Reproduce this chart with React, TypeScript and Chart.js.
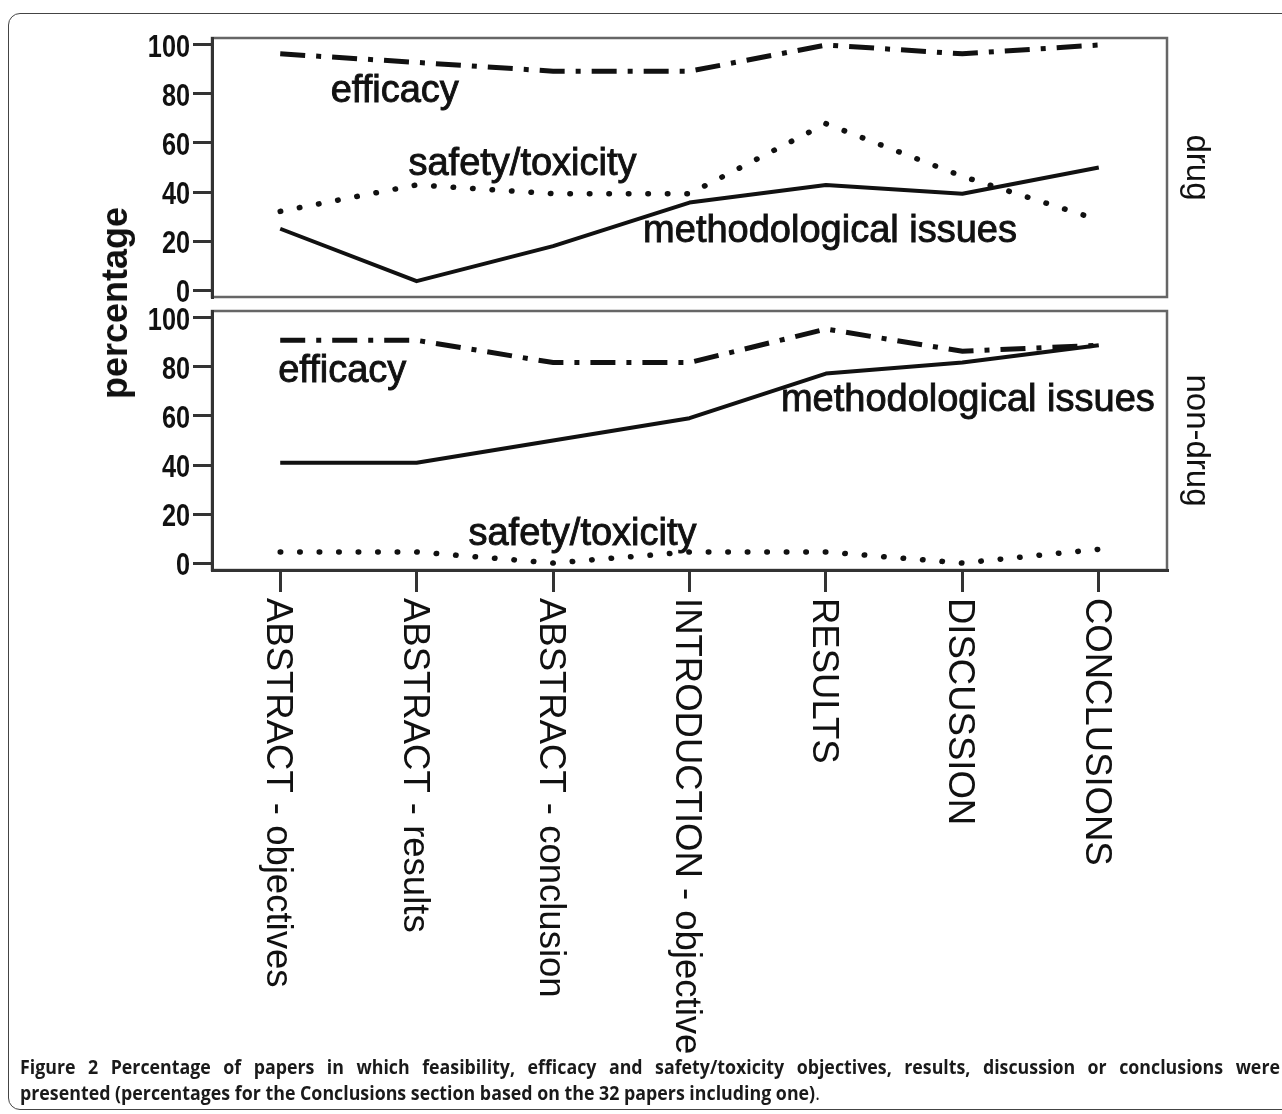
import React, { useEffect, useRef } from "react";
import { Chart, registerables } from "chart.js";

Chart.register(...registerables);

// ---------- data ----------
const categories = [
  "ABSTRACT - objectives",
  "ABSTRACT - results",
  "ABSTRACT - conclusion",
  "INTRODUCTION - objective",
  "RESULTS",
  "DISCUSSION",
  "CONCLUSIONS",
];
const yTicks = [0, 20, 40, 60, 80, 100];

const drugEfficacy = [96.4, 92.9, 89.3, 89.3, 100, 96.4, 100];
const drugSafety = [32.1, 42.9, 39.3, 39.3, 67.9, 46.4, 28.6];
const drugMethod = [25.0, 3.6, 17.9, 35.7, 42.9, 39.3, 50.0];

const nonDrugEfficacy = [90.9, 90.9, 81.8, 81.8, 95.5, 86.4, 88.9];
const nonDrugSafety = [4.5, 4.5, 0, 4.5, 4.5, 0, 5.6];
const nonDrugMethod = [40.9, 40.9, 50.0, 59.1, 77.3, 81.8, 88.9];

const seriesNames = ["efficacy", "safety/toxicity", "methodological issues"];
const panelNames = ["drug", "non-drug"];

// label anchors in data space: [category index, value] (order = seriesNames)
const drugLabelAt = [
  [0.37, 76.6],
  [0.94, 46.8],
  [2.66, 19.4],
];
const nonDrugLabelAt = [
  [-0.015, 73.8],
  [1.38, 7.2],
  [3.67, 62.0],
];

// ---------- styles ----------
const FONT = '"Liberation Sans", Arial, sans-serif';
const INK = "#111";
const TICK_LEN = 19;

function datasetsFor(eff: number[], saf: number[], met: number[]) {
  return [
    {
      label: seriesNames[0],
      data: eff,
      borderColor: INK,
      borderWidth: 5,
      borderDash: [25, 11, 5, 11],
      borderCapStyle: "butt",
      pointRadius: 0,
      tension: 0,
      fill: false,
    },
    {
      label: seriesNames[1],
      data: saf,
      borderColor: INK,
      borderWidth: 5.5,
      borderDash: [0.5, 19],
      borderCapStyle: "round",
      pointRadius: 0,
      tension: 0,
      fill: false,
    },
    {
      label: seriesNames[2],
      data: met,
      borderColor: INK,
      borderWidth: 4,
      borderJoinStyle: "round",
      pointRadius: 0,
      tension: 0,
      fill: false,
    },
  ];
}

function panelPlugin(panelName: string, labelAt: number[][], drawXLabels: boolean) {
  return {
    id: "panelDeco",
    beforeDraw(chart: any) {
      const { ctx, chartArea } = chart;
      ctx.save();
      ctx.strokeStyle = "#666";
      ctx.lineWidth = 2.5;
      ctx.strokeRect(
        chartArea.left,
        chartArea.top,
        chartArea.right - chartArea.left,
        chartArea.bottom - chartArea.top
      );
      ctx.restore();
    },
    afterDatasetsDraw(chart: any) {
      const { ctx, chartArea, scales } = chart;
      const xs = scales.x;
      const ys = scales.y;
      ctx.save();
      ctx.fillStyle = INK;
      ctx.strokeStyle = INK;
      // y tick labels (condensed bold)
      ctx.font = `bold 32px ${FONT}`;
      ctx.textAlign = "right";
      ctx.textBaseline = "middle";
      yTicks.forEach((v) => {
        ctx.save();
        ctx.translate(ys.right - TICK_LEN - 3, ys.getPixelForValue(v) + 3);
        ctx.scale(0.79, 1);
        ctx.fillText(String(v), 0, 0);
        ctx.restore();
      });
      // series annotations
      ctx.font = `38px ${FONT}`;
      ctx.textAlign = "left";
      ctx.textBaseline = "alphabetic";
      ctx.lineWidth = 0.9;
      seriesNames.forEach((name, i) => {
        const [ci, v] = labelAt[i];
        const px = xs.getPixelForValue(ci);
        const py = ys.getPixelForValue(v);
        ctx.fillText(name, px, py);
        ctx.strokeText(name, px, py);
      });
      // panel name on right
      ctx.save();
      ctx.font = `33px ${FONT}`;
      ctx.translate(chartArea.right + 29, (chartArea.top + chartArea.bottom) / 2);
      ctx.rotate(Math.PI / 2);
      ctx.textAlign = "center";
      ctx.textBaseline = "middle";
      ctx.fillText(panelName, 0, 0);
      ctx.restore();
      // category labels (reading top to bottom)
      if (drawXLabels) {
        ctx.font = `36.5px ${FONT}`;
        categories.forEach((c, i) => {
          ctx.save();
          ctx.translate(xs.getPixelForValue(i) - 3, chartArea.bottom + 28);
          ctx.rotate(Math.PI / 2);
          ctx.textAlign = "left";
          ctx.textBaseline = "middle";
          ctx.fillText(c, 0, 0);
          ctx.restore();
        });
      }
      ctx.restore();
    },
  };
}

function yScale() {
  return {
    type: "linear",
    min: -2.857,
    max: 102.857,
    afterBuildTicks: (s: any) => {
      s.ticks = yTicks.map((v) => ({ value: v }));
    },
    afterFit: (s: any) => {
      s.width = 212;
    },
    grid: {
      drawOnChartArea: false,
      drawTicks: true,
      tickLength: TICK_LEN,
      tickWidth: 3,
      tickColor: "#333",
      color: "#333",
      lineWidth: 3,
    },
    border: { display: true, color: "#333", width: 3 },
    ticks: { display: false },
  };
}

function PanelChart(props: { top: number; height: number; bottomPanel: boolean }) {
  const ref = useRef<HTMLCanvasElement | null>(null);
  useEffect(() => {
    if (!ref.current) return;
    const bottom = props.bottomPanel;
    const ds = bottom
      ? datasetsFor(nonDrugEfficacy, nonDrugSafety, nonDrugMethod)
      : datasetsFor(drugEfficacy, drugSafety, drugMethod);
    const xScale: any = bottom
      ? {
          type: "category",
          offset: true,
          afterFit: (s: any) => {
            s.height = props.height - 265;
          },
          grid: {
            offset: false,
            drawOnChartArea: false,
            drawTicks: true,
            tickLength: 22,
            tickWidth: 3,
            tickColor: "#333",
            color: "#333",
            lineWidth: 3,
          },
          border: { display: true, color: "#333", width: 3 },
          ticks: { display: false },
        }
      : { type: "category", offset: true, display: false };
    const chart = new Chart(ref.current, {
      type: "line",
      data: { labels: categories, datasets: ds as any },
      options: {
        responsive: false,
        animation: false,
        devicePixelRatio: 1,
        layout: {
          padding: bottom
            ? { top: 6, bottom: 0, left: 0, right: 115 }
            : { top: 38, bottom: 8, left: 0, right: 115 },
        },
        plugins: {
          legend: { display: false },
          title: { display: false },
          tooltip: { enabled: false },
        },
        scales: { x: xScale, y: yScale() as any },
      },
      plugins: [
        panelPlugin(
          bottom ? panelNames[1] : panelNames[0],
          bottom ? nonDrugLabelAt : drugLabelAt,
          bottom
        ),
      ],
    });
    return () => chart.destroy();
  }, []);
  return (
    <canvas
      ref={ref}
      width={1282}
      height={props.height}
      style={{
        position: "absolute",
        left: 0,
        top: props.top,
        width: 1282,
        height: props.height,
        display: "block",
      }}
    />
  );
}

const CAPTION_SCALE = 0.89;

export default function App() {
  return (
    <div
      style={{
        position: "absolute",
        left: 0,
        top: 0,
        width: 1282,
        height: 1114,
        overflow: "hidden",
        background: "#fff",
      }}
    >
      <div
        style={{
          position: "absolute",
          left: 8,
          top: 13,
          width: 1320,
          height: 1097,
          border: "1.5px solid #444",
          borderRadius: 12,
          boxSizing: "border-box",
        }}
      />
      <PanelChart top={0} height={305} bottomPanel={false} />
      <PanelChart top={305} height={761} bottomPanel={true} />
      <div
        style={{
          position: "absolute",
          left: 115,
          top: 303,
          transform: "translate(-50%, -50%) rotate(-90deg)",
          whiteSpace: "nowrap",
          fontFamily: FONT,
          fontWeight: "bold",
          fontSize: 36,
          color: INK,
          lineHeight: "40px",
        }}
      >
        percentage
      </div>
      <div
        style={{
          position: "absolute",
          left: 20,
          top: 1054,
          width: 1260 / CAPTION_SCALE,
          transform: `scaleX(${CAPTION_SCALE})`,
          transformOrigin: "left top",
          fontFamily: '"Open Sans", "Noto Sans", sans-serif',
          fontSize: 20,
          lineHeight: "26px",
          color: "#1a1a1a",
        }}
      >
        <div style={{ textAlign: "justify", textAlignLast: "justify" as any, fontWeight: 700 }}>
          Figure 2 Percentage of papers in which feasibility, efficacy and safety/toxicity
          objectives, results, discussion or conclusions were
        </div>
        <div>
          <span style={{ fontWeight: 700 }}>
            presented (percentages for the Conclusions section based on the 32 papers including one)
          </span>
          .
        </div>
      </div>
    </div>
  );
}
